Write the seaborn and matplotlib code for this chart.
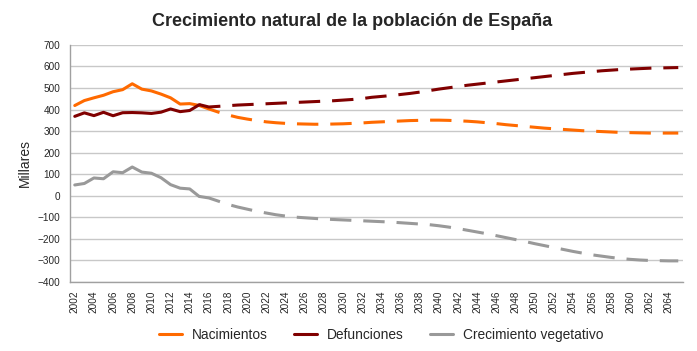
import numpy as np
import pandas as pd
import seaborn as sns
import matplotlib.pyplot as plt
from matplotlib.lines import Line2D

# observed data 2002-2015 (thousands)
years_obs = list(range(2002, 2016))
nac_obs = [418.8, 441.9, 454.6, 466.4, 482.9, 492.5, 519.8, 494.9, 486.6, 471.9, 454.6, 425.7, 427.6, 419.1]
def_obs = [368.6, 384.8, 371.9, 387.4, 371.5, 385.4, 386.3, 384.9, 382.0, 387.9, 402.9, 390.4, 395.8, 422.6]
veg_obs = [50.2, 57.1, 82.7, 79.0, 111.4, 107.1, 133.5, 110.0, 104.6, 84.0, 51.7, 35.3, 31.8, -3.5]

# projection 2015-2065 (thousands)
years_proj = list(range(2015, 2066))
nac_proj = [419, 403, 388, 375, 364, 356, 349, 343, 339, 336,
            334, 333, 332, 332, 333, 334, 336, 338, 341, 343,
            345, 347, 349, 350, 351, 351, 350, 348, 346, 343,
            339, 335, 330, 326, 322, 318, 314, 311, 308, 305,
            302, 300, 298, 296, 294, 293, 292, 291, 291, 291, 291]
def_proj = [423, 412, 415, 418, 421, 423, 425, 427, 429, 431,
            433, 435, 437, 439, 441, 444, 447, 451, 457, 461,
            465, 470, 475, 481, 488, 495, 501, 507, 513, 518,
            523, 528, 533, 538, 543, 548, 553, 558, 563, 568,
            572, 576, 580, 583, 586, 588, 590, 592, 593, 594, 595]
veg_proj = [-3, -10, -25, -40, -52, -62, -72, -80, -88, -94,
            -99, -102, -105, -108, -110, -112, -114, -116, -118, -120,
            -122, -125, -128, -131, -134, -139, -145, -152, -160, -168,
            -176, -185, -194, -203, -212, -222, -231, -240, -249, -258,
            -266, -274, -280, -286, -291, -295, -298, -300, -301, -302, -302]

series = ['Nacimientos', 'Defunciones', 'Crecimiento vegetativo']
colors = {'Nacimientos': '#FF6A00', 'Defunciones': '#800000', 'Crecimiento vegetativo': '#999999'}

frames = []
for name, obs, proj in zip(series, [nac_obs, def_obs, veg_obs], [nac_proj, def_proj, veg_proj]):
    frames.append(pd.DataFrame({'year': years_obs, 'value': obs, 'serie': name, 'tipo': 'obs'}))
    frames.append(pd.DataFrame({'year': years_proj, 'value': proj, 'serie': name, 'tipo': 'proj'}))
df = pd.concat(frames, ignore_index=True)

sns.set_style('white')
plt.rcParams['font.family'] = ['Liberation Sans', 'DejaVu Sans']

fig = plt.figure(figsize=(6.97, 3.51), dpi=100)
ax = fig.add_axes([0.1004, 0.1966, 0.8796, 0.6754])

sns.lineplot(data=df, x='year', y='value', hue='serie', style='tipo',
             units='serie', estimator=None,
             palette=colors, dashes={'obs': '', 'proj': (7.0, 3.9)},
             linewidth=2.2, legend=False, ax=ax)

ax.set_xlim(2001.5, 2065.5)
ax.set_ylim(-400, 700)
ax.set_yticks(np.arange(-400, 701, 100))
ax.set_xticks(np.arange(2002, 2065, 2))
ax.set_xticklabels([str(y) for y in range(2002, 2065, 2)], rotation=90, fontsize=7.2)
ax.tick_params(axis='y', labelsize=7.2, length=3, color='#888888', pad=4)
ax.tick_params(axis='x', length=3, color='#888888', pad=3)
ax.grid(axis='y', color='#C8C8C8', linewidth=1)
ax.set_axisbelow(True)
for s in ['top', 'right']:
    ax.spines[s].set_visible(False)
for s in ['left', 'bottom']:
    ax.spines[s].set_color('#A0A0A0')
    ax.spines[s].set_linewidth(1)
ax.set_xlabel('')
ax.set_ylabel('Millares', fontsize=10, labelpad=4)

fig.suptitle('Crecimiento natural de la población de España', fontsize=13,
             fontweight='bold', x=0.505, y=0.962)

handles = [Line2D([0], [0], color=colors[s], linewidth=2.2) for s in series]
fig.legend(handles, series, loc='center', bbox_to_anchor=(0.547, 0.045), ncol=3,
           frameon=False, fontsize=9.9, handlelength=1.67, columnspacing=1.9, handletextpad=0.75)

fig.savefig('out.png', dpi=100)
